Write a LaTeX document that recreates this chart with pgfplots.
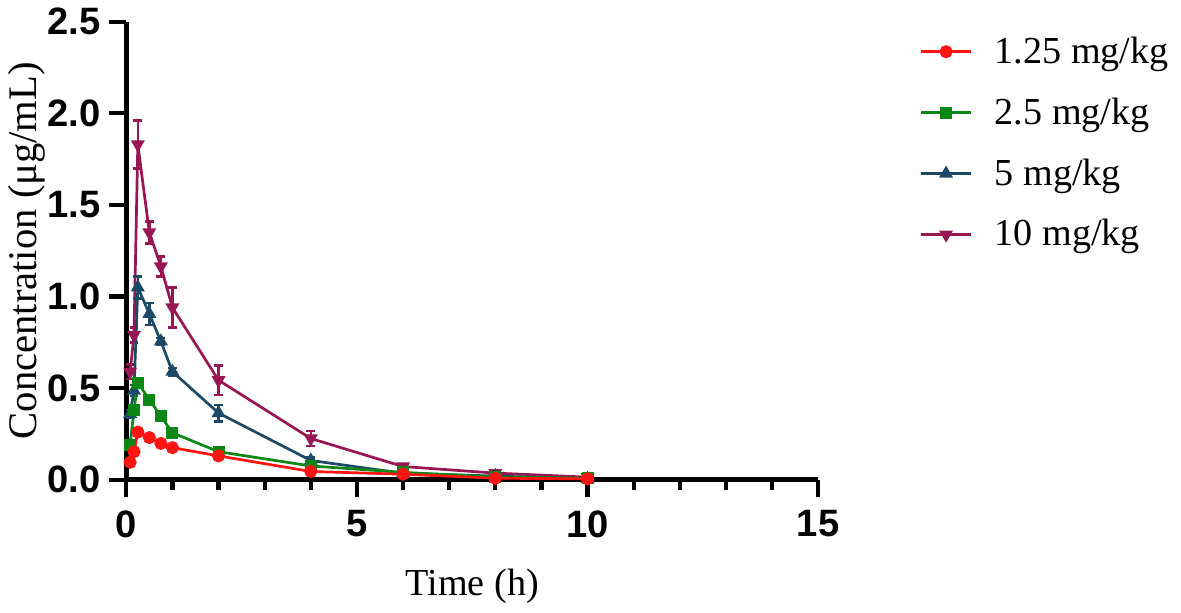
\documentclass[border=0pt]{standalone}
\usepackage{fontspec}
\setmainfont{Liberation Serif}
\newfontfamily\tickfont{Liberation Sans}
\usepackage{pgfplots}
\usepackage{pgfplotstable}
\pgfplotsset{compat=1.18}

\definecolor{cred}{HTML}{FF1414}
\definecolor{cgreen}{HTML}{0A8714}
\definecolor{cblue}{HTML}{1C4A66}
\definecolor{cpurple}{HTML}{981653}

% t, mean, sd
\pgfplotstableread{
t y e
0.083 0.095 0.005
0.167 0.153 0.008
0.25 0.26 0.01
0.5 0.23 0.008
0.75 0.198 0.006
1 0.175 0.006
2 0.13 0.006
4 0.045 0.004
6 0.03 0.003
8 0.008 0.002
10 0.005 0.002
}\lowdose
\pgfplotstableread{
t y e
0.083 0.19 0.01
0.167 0.38 0.015
0.25 0.53 0.02
0.5 0.437 0.015
0.75 0.347 0.012
1 0.256 0.01
2 0.153 0.008
4 0.075 0.006
6 0.04 0.004
8 0.015 0.003
10 0.008 0.002
}\middose
\pgfplotstableread{
t y e
0.083 0.36 0.02
0.167 0.486 0.03
0.25 1.05 0.06
0.5 0.905 0.06
0.75 0.755 0.02
1 0.59 0.02
2 0.364 0.045
4 0.105 0.015
6 0.035 0.005
8 0.02 0.005
10 0.005 0.003
}\highdose
\pgfplotstableread{
t y e
0.083 0.59 0.04
0.167 0.79 0.04
0.25 1.83 0.13
0.5 1.35 0.06
0.75 1.164 0.055
1 0.94 0.11
2 0.543 0.08
4 0.225 0.04
6 0.072 0.014
8 0.036 0.01
10 0.014 0.005
}\topdose

\begin{document}
\begin{tikzpicture}
\begin{axis}[
    scale only axis,
    width=281pt, height=186pt,
    xmin=0, xmax=15, ymin=0, ymax=2.5,
    axis lines=left,
    axis line style={line width=2pt, -},
    clip=false,
    xtick={0,5,10,15},
    minor x tick num=4,
    ytick={0,0.5,1,1.5,2,2.5},
    tick align=outside,
    major tick length=7pt,
    minor tick length=4pt,
    every tick/.style={black, line width=1.7pt},
    tick label style={font=\tickfont\bfseries\fontsize{15.5}{17}\selectfont},
    /pgf/number format/assume math mode=true,
    yticklabel style={/pgf/number format/fixed, /pgf/number format/fixed zerofill, /pgf/number format/precision=1},
    xticklabel style={yshift=-2pt},
    xlabel={Time (h)},
    ylabel={Concentration (μg/mL)},
    xlabel style={font=\fontsize{15.5}{17}\selectfont, yshift=-6pt},
    ylabel style={font=\fontsize{16.5}{18}\selectfont, yshift=-6pt},
    reverse legend,
    legend cell align=left,
    legend style={at={(1.135,0.99)}, anchor=north west, draw=none, fill=none,
        font=\fontsize{15.5}{17}\selectfont, row sep=8.5pt, column sep=7pt},
    legend image code/.code={\draw[mark repeat=2,mark phase=2] plot coordinates {(0cm,0cm)(0.36cm,0cm)(0.72cm,0cm)};},
    every axis plot/.append style={line width=1.1pt},
    error bars/y dir=both,
    error bars/y explicit,
    error bars/error mark options={rotate=90, mark size=1.8pt, line width=1pt},
    error bars/error bar style={line width=1pt},
]
\addplot[color=cpurple, mark=triangle*, mark options={rotate=180, scale=1.1}]
    table[x=t, y=y, y error=e] {\topdose};
\addplot[color=cblue, mark=triangle*, mark options={scale=1.1}]
    table[x=t, y=y, y error=e] {\highdose};
\addplot[color=cgreen, mark=square*, mark size=1.9pt]
    table[x=t, y=y, y error=e] {\middose};
\addplot[color=cred, mark=*, mark size=2.1pt]
    table[x=t, y=y, y error=e] {\lowdose};
\legend{10 mg/kg, 5 mg/kg, 2.5 mg/kg, 1.25 mg/kg}
\end{axis}
\end{tikzpicture}
\end{document}
